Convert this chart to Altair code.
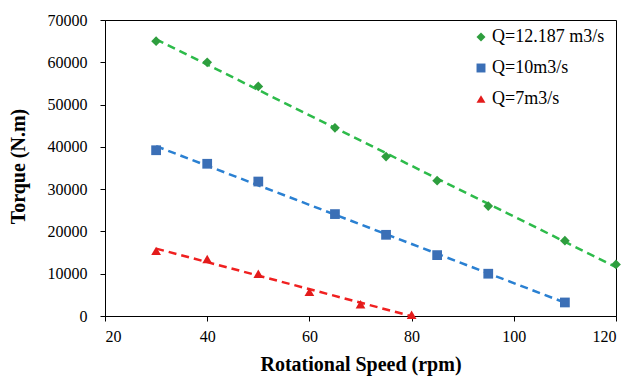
import altair as alt
import pandas as pd

series_names = ["Q=12.187 m3/s", "Q=10m3/s", "Q=7m3/s"]

speed_a = [30, 40, 50, 65, 75, 85, 95, 110, 120]
torque_a = [65000, 60000, 54300, 44500, 37700, 32000, 26000, 17800, 12200]

speed_b = [30, 40, 50, 65, 75, 85, 95, 110]
torque_b = [39200, 36000, 31800, 24100, 19200, 14400, 10000, 3200]

speed_c = [30, 40, 50, 60, 70, 80]
torque_c = [15400, 13500, 10000, 5700, 2800, 300]

x_ticks = [20, 40, 60, 80, 100, 120]
y_ticks = [0, 10000, 20000, 30000, 40000, 50000, 60000, 70000]

marker_colors = ["#2e9e3e", "#3b6fb6", "#e31b1b"]
line_colors = ["#2dbb4a", "#2a80d2", "#f02020"]
shapes = ["diamond", "square", "triangle-up"]

rows = []
for name, xs, ys in zip(series_names, [speed_a, speed_b, speed_c], [torque_a, torque_b, torque_c]):
    for x, y in zip(xs, ys):
        rows.append({"series": name, "speed": x, "torque": y})
df = pd.DataFrame(rows)

FONT = "Liberation Serif, Times New Roman, serif"

x_enc = alt.X(
    "speed:Q",
    scale=alt.Scale(domain=[20, 120], nice=False),
    axis=alt.Axis(
        values=x_ticks,
        title="Rotational Speed (rpm)",
        titleY=54,
        titleBaseline="alphabetic",
        labelFont=FONT,
    ),
)
y_enc = alt.Y(
    "torque:Q",
    scale=alt.Scale(domain=[0, 70000], nice=False),
    axis=alt.Axis(
        values=y_ticks,
        format="d",
        title="Torque (N.m)",
        titleX=-87,
        titleY=146,
        titleAngle=-90,
        titleAlign="center",
        titleBaseline="middle",
        labelFont=FONT,
    ),
)

line_layers = []
for name, col in zip(series_names, line_colors):
    line_layers.append(
        alt.Chart(df)
        .transform_filter(alt.datum.series == name)
        .transform_regression("speed", "torque")
        .mark_line(strokeDash=[8, 5], strokeWidth=2.5, color=col)
        .encode(x=x_enc, y=y_enc)
    )

legend = alt.Legend(
    title=None,
    orient="none",
    legendX=367,
    legendY=8,
    labelFont=FONT,
    labelFontSize=18,
    labelColor="black",
    symbolSize=80,
    symbolStrokeWidth=0,
    rowPadding=13,
    labelOffset=2,
)

points = (
    alt.Chart(df)
    .mark_point(filled=True, size=95, opacity=1)
    .encode(
        x=x_enc,
        y=y_enc,
        color=alt.Color(
            "series:N",
            scale=alt.Scale(domain=series_names, range=marker_colors),
            legend=legend,
        ),
        shape=alt.Shape(
            "series:N",
            scale=alt.Scale(domain=series_names, range=shapes),
            legend=legend,
        ),
    )
)

chart = (
    alt.layer(*line_layers, points)
    .properties(
        width=511,
        height=296,
        autosize=alt.AutoSizeParams(type="none"),
        padding={"left": 105, "top": 20, "right": 17, "bottom": 63},
        background="white",
    )
    .configure_view(stroke="black", strokeWidth=1)
    .configure_axis(
        grid=False,
        domainColor="black",
        tickColor="black",
        tickSize=5,
        labelFont=FONT,
        labelFontSize=16,
        labelColor="black",
        titleFont=FONT,
        titleFontSize=20,
        titleFontWeight="bold",
        titleColor="black",
    )
    .configure_axisX(labelPadding=7)
    .configure_axisY(labelPadding=13)
)

chart.save("out.html", embed_options={"renderer": "svg", "actions": False})
